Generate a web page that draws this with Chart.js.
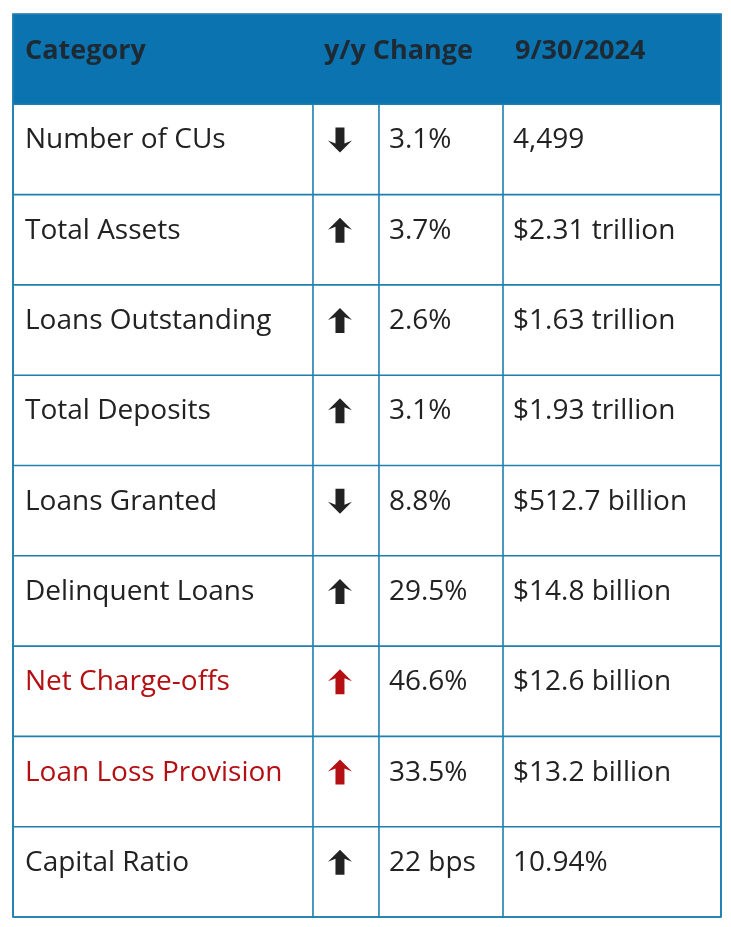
<!DOCTYPE html>
<html><head><meta charset="utf-8">
<script src="https://cdn.jsdelivr.net/npm/chart.js@4"></script>
<style>html,body{margin:0;padding:0;background:#fff}#w{width:731px;height:927px}</style>
</head><body><div id="w"><canvas id="c"></canvas></div>
<script>
const headers = ["Category", "y/y Change", "9/30/2024"];
const categories = ["Number of CUs","Total Assets","Loans Outstanding","Total Deposits","Loans Granted","Delinquent Loans","Net Charge-offs","Loan Loss Provision","Capital Ratio"];
const directions = ["down","up","up","up","down","up","up","up","up"];
const changes = ["3.1%","3.7%","2.6%","3.1%","8.8%","29.5%","46.6%","33.5%","22 bps"];
const values = ["4,499","$2.31 trillion","$1.63 trillion","$1.93 trillion","$512.7 billion","$14.8 billion","$12.6 billion","$13.2 billion","10.94%"];
const highlighted = ["Net Charge-offs","Loan Loss Provision"];

const colEdges = [0, 0.4237, 0.5169, 0.6921, 1];
const FONT = "'Open Sans', sans-serif";

const tablePlugin = {
  id: 'table',
  afterDraw(chart) {
    const ctx = chart.ctx, xs = chart.scales.x, ys = chart.scales.y;
    const X = v => xs.getPixelForValue(v), Y = v => ys.getPixelForValue(v);
    const n = categories.length;
    ctx.save();
    ctx.fillStyle = '#0b73b0';
    ctx.fillRect(X(0), Y(0), X(1) - X(0), Y(1) - Y(0));
    ctx.fillStyle = '#1e2a33';
    ctx.font = "bold 27px " + FONT;
    ctx.textBaseline = 'middle';
    const hy = (Y(0) + Y(1)) / 2 - 8;
    ctx.fillText(headers[0], X(colEdges[0]) + 12, hy);
    ctx.fillText(headers[1], X(colEdges[1]) + 11, hy);
    ctx.fillText(headers[2], X(colEdges[3]) + 12, hy);
    ctx.strokeStyle = '#1f7fae';
    ctx.lineWidth = 1.6;
    for (let i = 1; i <= n + 1; i++) {
      ctx.beginPath(); ctx.moveTo(X(0), Y(i)); ctx.lineTo(X(1), Y(i)); ctx.stroke();
    }
    colEdges.forEach(e => {
      ctx.beginPath(); ctx.moveTo(X(e), Y(e === 0 || e === 1 ? 0 : 1)); ctx.lineTo(X(e), Y(n + 1)); ctx.stroke();
    });
    ctx.strokeRect(X(0), Y(0), X(1) - X(0), Y(n + 1) - Y(0));
    ctx.font = "28px " + FONT;
    for (let i = 0; i < n; i++) {
      const top = Y(i + 1), bot = Y(i + 2), ty = (top + bot) / 2 - 9;
      const red = highlighted.includes(categories[i]);
      ctx.fillStyle = red ? '#b40f12' : '#222';
      ctx.fillText(categories[i], X(colEdges[0]) + 12, ty);
      const cx = (X(colEdges[1]) + X(colEdges[2])) / 2 - 6;
      const up = directions[i] === 'up';
      const t = ty - 13, b = ty + 12, s = up ? 1 : -1;
      const tip = up ? t : b, base = up ? b : t;
      ctx.beginPath();
      ctx.moveTo(cx, tip);
      ctx.lineTo(cx + 12, tip + s * 12);
      ctx.lineTo(cx + 4.5, tip + s * 9);
      ctx.lineTo(cx + 4.5, base);
      ctx.lineTo(cx - 4.5, base);
      ctx.lineTo(cx - 4.5, tip + s * 9);
      ctx.lineTo(cx - 12, tip + s * 12);
      ctx.closePath();
      ctx.fill();
      ctx.fillStyle = '#222';
      ctx.fillText(changes[i], X(colEdges[2]) + 10, ty);
      ctx.fillText(values[i], X(colEdges[3]) + 10, ty);
    }
    ctx.restore();
  }
};

new Chart(document.getElementById('c'), {
  type: 'scatter',
  data: { datasets: [{ data: [], pointRadius: 0 }] },
  options: {
    responsive: true, maintainAspectRatio: false, animation: false,
    layout: { padding: { left: 13, top: 14, right: 10, bottom: 10 } },
    plugins: { legend: { display: false }, tooltip: { enabled: false } },
    scales: {
      x: { type: 'linear', min: 0, max: 1, display: false },
      y: { type: 'linear', min: 0, max: categories.length + 1, reverse: true, display: false }
    }
  },
  plugins: [tablePlugin]
});
</script></body></html>
